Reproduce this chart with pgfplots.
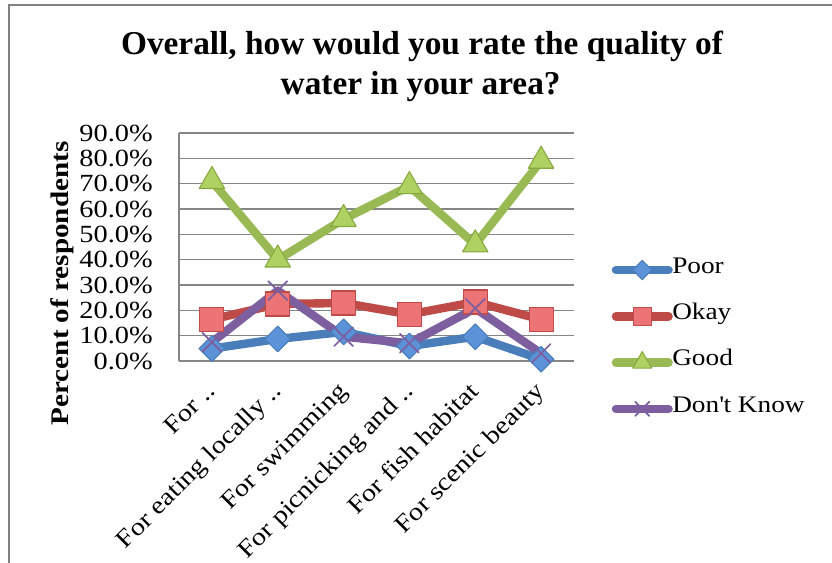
\documentclass[border=0pt]{standalone}
\usepackage{pgfplots}
\pgfplotsset{compat=1.18}
\usepackage{fontspec}
\setmainfont[FakeStretch=1.15]{Liberation Serif}
\newfontfamily\titlefont{Liberation Serif}

\definecolor{poorline}{HTML}{4A7EBB}
\definecolor{poorfill}{HTML}{5B92D8}
\definecolor{okayline}{HTML}{BE4B48}
\definecolor{okayfill}{HTML}{EC7476}
\definecolor{goodline}{HTML}{98B954}
\definecolor{goodfill}{HTML}{AED162}
\definecolor{goodedge}{HTML}{86A83E}
\definecolor{dkline}{HTML}{7D5FA0}
\definecolor{gridgray}{HTML}{868686}
\definecolor{framegray}{HTML}{808080}

% survey shares (%), one column per rating
\pgfplotstableread{
cat poor okay good dk
0   4.9  16.4 71.0 7.4
1   8.7  22.5 40.0 27.8
2   11.5 22.9 56.0 9.6
3   5.9  18.4 69.0 7.0
4   9.6  23.3 46.0 20.8
5   0.7  16.4 79.0 3.0
}\ratings

\begin{document}
\begin{tikzpicture}
\path[use as bounding box] (0pt,0pt) rectangle (624pt,421.5pt);
% chart frame
\draw[framegray, line width=1.5pt] (6.6pt,-2pt) -- (6.6pt,418.1pt) -- (626pt,418.1pt);

% title
\node[anchor=base, font=\titlefont\bfseries\fontsize{25}{30}\selectfont] at (316.5pt,380.3pt) {Overall, how would you rate the quality of};
\node[anchor=base, font=\titlefont\bfseries\fontsize{25}{30}\selectfont] at (315.5pt,351pt) {water in your area?};

% y-axis title
\node[rotate=90, font=\bfseries\fontsize{19}{22}\selectfont] at (46.5pt,209pt) {Percent of respondents};

\begin{axis}[
  at={(134.25pt,150.75pt)}, anchor=south west,
  scale only axis, width=296.25pt, height=171pt,
  xmin=-0.5, xmax=5.5, ymin=0, ymax=90,
  clip=false,
  axis lines*=left,
  axis line style={gridgray, line width=0.9pt, -},
  ymajorgrids, grid style={gridgray, line width=0.9pt},
  major tick length=0pt,
  ytick={0,10,...,90},
  yticklabels={0.0\%,10.0\%,20.0\%,30.0\%,40.0\%,50.0\%,60.0\%,70.0\%,80.0\%,90.0\%},
  xtick={0,1,2,3,4,5},
  xticklabels={For .., For eating locally .., For swimming, For picnicking and .., For fish habitat, For scenic beauty},
  yticklabel style={font=\rmfamily\fontsize{18.5}{22}\selectfont, anchor=east, inner sep=0pt, xshift=-19.5pt},
  xticklabel style={font=\rmfamily\fontsize{18.5}{22}\selectfont, xshift=2pt, yshift=-22pt, rotate=45, anchor=east, inner sep=0pt, text height=0.68em, text depth=0.22em},
  legend style={at={(1.0962,0.0945)}, anchor=west, draw=none, fill=none,
    font=\fontsize{17.8}{20}\selectfont, inner sep=0pt, row sep=10.7pt, column sep=0pt,
    nodes={inner sep=0pt, text height=0.7em, text depth=0.2em}},
  legend cell align=left,
  legend image code/.code={%
    \pgfpathrectangle{\pgfpoint{0pt}{-12pt}}{\pgfpoint{45pt}{24pt}}%
    \pgfusepath{use as bounding box}%
    \draw[mark repeat=2, mark phase=2, every mark/.append style={scale=0.75}]
      plot coordinates {(2.75pt,0pt) (22.5pt,0pt) (42.25pt,0pt)};},
  every axis plot/.append style={line width=6.3pt, line cap=round, line join=round},
]
\addplot[poorline, mark=square*, mark size=6.8pt,
  mark options={rotate=45, fill=poorfill, draw=poorline, line width=0.8pt}]
  table[x=cat, y=poor] {\ratings};
\addlegendentry{Poor}
\addplot[okayline, mark=square*, mark size=9pt,
  mark options={fill=okayfill, draw=okayline, line width=0.8pt}]
  table[x=cat, y=okay] {\ratings};
\addlegendentry{Okay}
\addplot[goodline, mark=triangle*, mark size=11pt,
  mark options={fill=goodfill, draw=goodedge, line width=0.8pt}]
  table[x=cat, y=good] {\ratings};
\addlegendentry{Good}
\addplot[dkline, mark=x, mark size=10pt,
  mark options={draw=dkline, line width=1.3pt}]
  table[x=cat, y=dk] {\ratings};
\addlegendentry{Don\textquotesingle t Know}
\end{axis}
\end{tikzpicture}
\end{document}
